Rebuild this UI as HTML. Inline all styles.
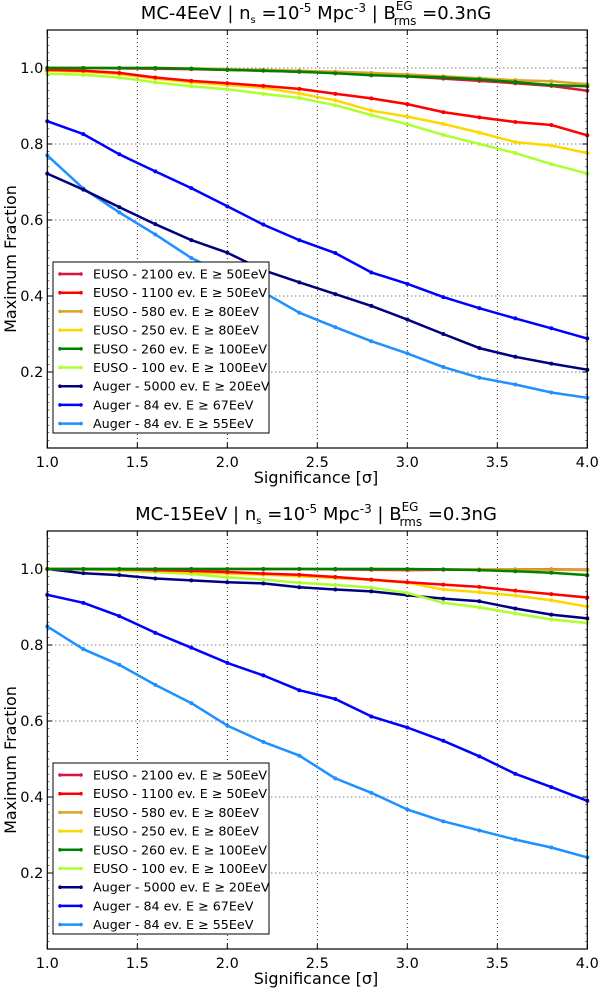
<!DOCTYPE html>
<html><head><meta charset="utf-8"><style>
html,body{margin:0;padding:0;background:#fff;}
svg{display:block;font-family:"DejaVu Sans","Liberation Sans",sans-serif;}
</style></head><body>
<svg id="fig" width="600" height="990" viewBox="0 0 600 990"></svg>
<script>
const xValues = [1.0,1.2,1.4,1.6,1.8,2.0,2.2,2.4,2.6,2.8,3.0,3.2,3.4,3.6,3.8,4.0];
const xTicks = [1.0,1.5,2.0,2.5,3.0,3.5,4.0];
const xTickLabels = ["1.0","1.5","2.0","2.5","3.0","3.5","4.0"];
const yTicks = [0.2,0.4,0.6,0.8,1.0];
const yTickLabels = ["0.2","0.4","0.6","0.8","1.0"];
const seriesLabels = ["EUSO - 2100 ev. E \u2265 50EeV","EUSO - 1100 ev. E \u2265 50EeV","EUSO - 580 ev. E \u2265 80EeV","EUSO - 250 ev. E \u2265 80EeV","EUSO - 260 ev. E \u2265 100EeV","EUSO - 100 ev. E \u2265 100EeV","Auger - 5000 ev. E \u2265 20EeV","Auger - 84 ev. E \u2265 67EeV","Auger - 84 ev. E \u2265 55EeV"];
const seriesColors = ["#dc143c","#ff0000","#daa520","#ffd700","#008000","#adff2f","#000080","#0000ff","#1e90ff"];

// Top panel (MC-4EeV)
const top_euso2100 = [1.0,1.0,0.999,0.998,0.997,0.995,0.993,0.99,0.987,0.983,0.978,0.972,0.966,0.96,0.953,0.94];
const top_euso1100 = [0.995,0.993,0.987,0.975,0.966,0.96,0.953,0.945,0.932,0.92,0.905,0.884,0.87,0.858,0.85,0.823];
const top_euso580 = [1.0,1.0,1.0,1.0,0.999,0.997,0.995,0.993,0.99,0.987,0.983,0.978,0.973,0.968,0.965,0.957];
const top_euso250 = [0.993,0.99,0.984,0.972,0.962,0.955,0.948,0.933,0.915,0.888,0.872,0.853,0.83,0.805,0.796,0.776];
const top_euso260 = [1.0,1.0,1.0,1.0,0.998,0.995,0.993,0.99,0.986,0.981,0.978,0.975,0.97,0.963,0.955,0.952];
const top_euso100 = [0.985,0.982,0.975,0.962,0.952,0.944,0.932,0.921,0.902,0.876,0.852,0.824,0.8,0.776,0.747,0.722];
const top_auger5000 = [0.722,0.68,0.634,0.589,0.547,0.514,0.468,0.436,0.405,0.374,0.338,0.3,0.263,0.24,0.222,0.206];
const top_auger67 = [0.86,0.826,0.773,0.728,0.684,0.636,0.588,0.547,0.513,0.462,0.432,0.397,0.368,0.341,0.315,0.288];
const top_auger55 = [0.77,0.683,0.62,0.562,0.5,0.455,0.41,0.356,0.318,0.281,0.249,0.213,0.185,0.167,0.146,0.132];

// Bottom panel (MC-15EeV)
const bot_euso2100 = [1.0,1.0,1.0,1.0,1.0,1.0,1.0,1.0,0.999,0.998,0.997,0.998,0.998,0.999,0.999,0.998];
const bot_euso1100 = [1.0,1.0,0.999,0.997,0.995,0.992,0.988,0.985,0.979,0.972,0.965,0.959,0.953,0.943,0.934,0.925];
const bot_euso580 = [1.0,1.0,1.0,1.0,1.0,1.0,1.0,1.0,1.0,1.0,0.999,0.999,0.999,0.999,0.998,0.997];
const bot_euso250 = [1.0,0.999,0.998,0.995,0.991,0.988,0.985,0.981,0.976,0.971,0.964,0.946,0.939,0.93,0.918,0.901];
const bot_euso260 = [1.0,1.0,1.0,1.0,1.0,1.0,1.0,1.0,1.0,1.0,1.0,0.999,0.997,0.994,0.99,0.984];
const bot_euso100 = [1.0,0.999,0.995,0.992,0.987,0.978,0.972,0.964,0.958,0.951,0.937,0.911,0.899,0.883,0.867,0.858];
const bot_auger5000 = [1.0,0.989,0.984,0.975,0.97,0.965,0.962,0.952,0.946,0.941,0.931,0.922,0.915,0.896,0.88,0.87];
const bot_auger67 = [0.932,0.911,0.876,0.832,0.793,0.753,0.72,0.681,0.658,0.612,0.583,0.548,0.507,0.461,0.426,0.39];
const bot_auger55 = [0.849,0.789,0.748,0.695,0.647,0.588,0.545,0.509,0.449,0.411,0.367,0.336,0.312,0.288,0.267,0.241];

const topSeries = [top_euso2100,top_euso1100,top_euso580,top_euso250,top_euso260,top_euso100,top_auger5000,top_auger67,top_auger55];
const botSeries = [bot_euso2100,bot_euso1100,bot_euso580,bot_euso250,bot_euso260,bot_euso100,bot_auger5000,bot_auger67,bot_auger55];
const drawOrder = [8,7,6,5,3,1,0,2,4];

const NS="http://www.w3.org/2000/svg";
const svg=document.getElementById('fig');
function mk(tag,attrs,parent){const e=document.createElementNS(NS,tag);for(const k in attrs)e.setAttribute(k,attrs[k]);(parent||svg).appendChild(e);return e;}

function panel(prefix,top,series,titleMain){
  const L=47.3,R=587.3,T=top,B=top+418;
  const xs=v=>L+(v-1)/3*(R-L);
  const ys=v=>B-v/1.1*(B-T);
  const g=mk('g',{});
  
  
  const t=mk('text',{x:316,y:T-11,'text-anchor':'middle','font-size':18},g);
  
  
  t.innerHTML=titleMain+' | n<tspan font-size="10" dy="4">s</tspan><tspan dy="-4"> =10</tspan><tspan font-size="12" dy="-7">-5</tspan><tspan dy="7"> Mpc</tspan><tspan font-size="12" dy="-7">-3</tspan><tspan dy="7">  | B</tspan><tspan font-size="12" dy="-9">EG</tspan><tspan font-size="12" dx="-19" dy="15">rms</tspan><tspan dy="-6"> =0.3nG</tspan>';
  xTicks.forEach((v,i)=>{
    if(i>0&&i<xTicks.length-1){const l=mk('line',{x1:xs(v),x2:xs(v),y1:T,y2:B,stroke:'#000','stroke-width':0.8,'stroke-dasharray':'1,3'},g);
    }
    mk('line',{x1:xs(v),x2:xs(v),y1:B,y2:B-5,stroke:'#000'},g);
    mk('line',{x1:xs(v),x2:xs(v),y1:T,y2:T+5,stroke:'#000'},g);
    const tx=mk('text',{x:xs(v),y:B+19,'text-anchor':'middle','font-size':14.5},g);
    tx.textContent=xTickLabels[i];
    
  });
  yTicks.forEach((v,i)=>{
    const l=mk('line',{x1:L,x2:R,y1:ys(v),y2:ys(v),stroke:'#000','stroke-width':0.8,'stroke-dasharray':'1,3'},g);
    
    mk('line',{x1:L,x2:L+5,y1:ys(v),y2:ys(v),stroke:'#000'},g);
    mk('line',{x1:R,x2:R-5,y1:ys(v),y2:ys(v),stroke:'#000'},g);
    const tx=mk('text',{x:L-4,y:ys(v)+5,'text-anchor':'end','font-size':14.5},g);
    tx.textContent=yTickLabels[i];
    
  });
  for(let k=1;k<55;k++){const v=k*0.02;mk('line',{x1:L,x2:L+2,y1:ys(v),y2:ys(v),stroke:'#000','stroke-width':0.6},g);mk('line',{x1:R,x2:R-2,y1:ys(v),y2:ys(v),stroke:'#000','stroke-width':0.6},g);}
  drawOrder.forEach(si=>{
    const d=series[si];
    const pts=d.map((v,i)=>xs(xValues[i]).toFixed(1)+','+ys(v).toFixed(1)).join(' ');
    const pl=mk('polyline',{points:pts,fill:'none',stroke:seriesColors[si],'stroke-width':2.5,'stroke-linejoin':'round'},g);
    
    d.forEach((v,i)=>{const c=mk('circle',{cx:xs(xValues[i]),cy:ys(v),r:2,fill:seriesColors[si]},g);
      });
  });
  const fr=mk('rect',{x:L,y:T,width:R-L,height:B-T,fill:'none',stroke:'#000','stroke-width':1.2},g);
  
  const lg=mk('g',{},g);
  
  const lx=53,ly=B-186;
  mk('rect',{x:lx,y:ly,width:216,height:171,fill:'#fff',stroke:'#000','stroke-width':1},lg);
  seriesLabels.forEach((s,i)=>{
    const yy=ly+12+i*18.7;
    mk('line',{x1:lx+7,x2:lx+28,y1:yy,y2:yy,stroke:seriesColors[i],'stroke-width':2.5},lg);
    mk('circle',{cx:lx+7,cy:yy,r:1.8,fill:seriesColors[i]},lg);
    mk('circle',{cx:lx+28,cy:yy,r:1.8,fill:seriesColors[i]},lg);
    const tx=mk('text',{x:lx+40,y:yy+4.5,'font-size':12.7},lg);
    tx.textContent=s;
    
  });
  const xl=mk('text',{x:316,y:B+35,'text-anchor':'middle','font-size':16},g);
  xl.textContent='Significance [\u03c3]';
  
  const yl=mk('text',{x:0,y:0,'text-anchor':'middle','font-size':16,transform:'translate(16,'+((T+B)/2+20)+') rotate(-90)'},g);
  yl.textContent='Maximum Fraction';
  
}
panel('top',30,topSeries,'MC-4EeV');
panel('bottom',531,botSeries,'MC-15EeV');
</script>
</body></html>
